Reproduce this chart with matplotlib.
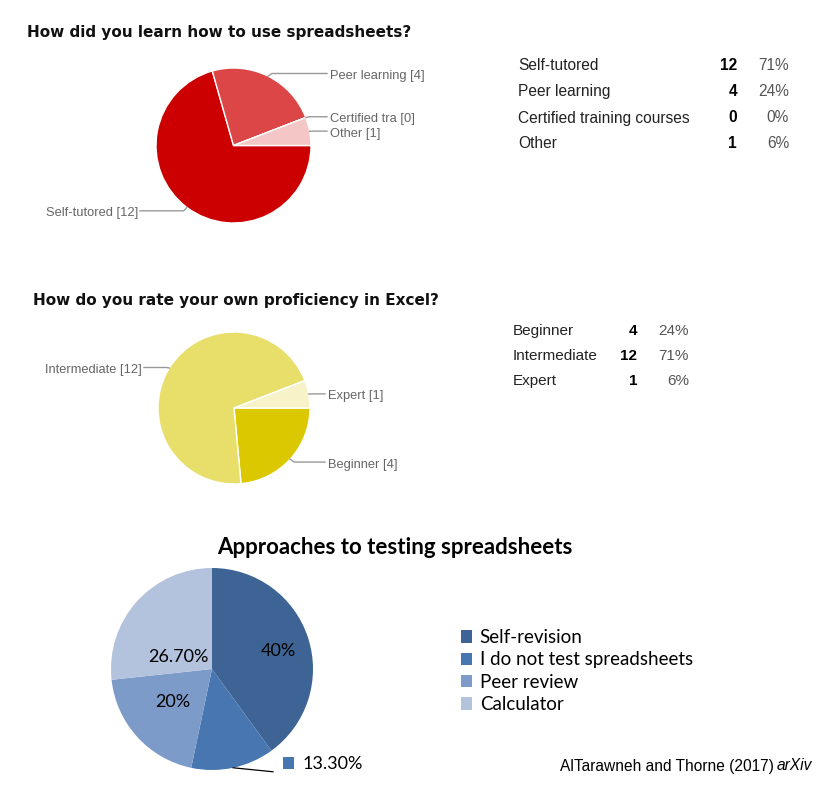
import matplotlib
matplotlib.use("Agg")
import matplotlib.pyplot as plt
from matplotlib.lines import Line2D
from matplotlib.patches import Rectangle
import numpy as np

# ---------------- data ----------------
learn_categories = ["Self-tutored", "Peer learning", "Certified training courses", "Other"]
learn_counts = [12, 4, 0, 1]
learn_pct = ["71%", "24%", "0%", "6%"]
learn_pie_labels = ["Self-tutored [12]", "Peer learning [4]", "Certified tra [0]", "Other [1]"]

excel_categories = ["Beginner", "Intermediate", "Expert"]
excel_counts = [4, 12, 1]
excel_pct = ["24%", "71%", "6%"]
excel_pie_labels = ["Beginner [4]", "Intermediate [12]", "Expert [1]"]

test_categories = ["Self-revision", "I do not test spreadsheets", "Peer review", "Calculator"]
test_values = [40, 13.3, 20, 26.7]
test_labels = ["40%", "13.30%", "20%", "26.70%"]

learn_colors = ["#cc0000", "#dc4646", "#e88a8a", "#f4c6c6"]
excel_colors = ["#dcc800", "#e8de6a", "#f7f2c8"]
test_colors = ["#3d6494", "#4776b0", "#7d9bc9", "#b3c2dd"]

W, H = 835, 798
fig = plt.figure(figsize=(W / 100, H / 100), dpi=100)
fig.patch.set_facecolor("white")

GFONT = ["Liberation Sans", "DejaVu Sans"]
TFONT = ["DejaVu Sans"]
XFONT = ["Lato", "DejaVu Sans"]


def fx(x):
    return x / W


def fy(y):
    return 1 - y / H


def pie_axes(cx, cy, r):
    ax = fig.add_axes([fx(cx - r), fy(cy + r), 2 * r / W, 2 * r / H])
    return ax


def line_px(xs, ys, color="#999999", lw=1.0):
    fig.add_artist(Line2D([fx(x) for x in xs], [fy(y) for y in ys],
                          transform=fig.transFigure, color=color, lw=lw))


def google_pie(cx, cy, r, values, colors, labels, right_x, left_x, dy_left=0):
    ax = pie_axes(cx, cy, r)
    wedges, _ = ax.pie(values, colors=colors, startangle=0, counterclock=False,
                       radius=1, wedgeprops=dict(edgecolor="white", linewidth=1.0))
    ax.set_xlim(-1, 1)
    ax.set_ylim(-1, 1)
    ax.axis("off")
    for w, lab in zip(wedges, labels):
        mid = np.deg2rad((w.theta1 + w.theta2) / 2)
        ex = cx + r * np.cos(mid)
        ey = cy - r * np.sin(mid)
        if np.cos(mid) >= 0:
            ly = ey + 3 - 3.5 * np.sin(mid)
            line_px([ex, ex + 4, right_x - 3], [ey, ly - 2.5, ly - 2.5])
            fig.text(fx(right_x), fy(ly), lab, ha="left", va="center",
                     fontsize=9.3, color="#666666", family=GFONT)
        else:
            ly = ey + dy_left
            line_px([ex, ex - 3, left_x + 2], [ey, ly - 2.5, ly - 2.5])
            fig.text(fx(left_x), fy(ly), lab, ha="right", va="center",
                     fontsize=9.3, color="#666666", family=GFONT)


# ---------------- chart 1 ----------------
fig.text(fx(27), fy(33), "How did you learn how to use spreadsheets?", ha="left",
         va="center", fontsize=11, fontweight="bold", color="#111111", family=TFONT)
google_pie(233.5, 145.5, 77.5, learn_counts, learn_colors, learn_pie_labels, 330, 138, dy_left=6)

rows1 = [65, 91.5, 118, 144]
for y, c, n, p in zip(rows1, learn_categories, learn_counts, learn_pct):
    fig.text(fx(518), fy(y), c, ha="left", va="center", fontsize=11.2, color="#222222", family=GFONT)
    fig.text(fx(737), fy(y), str(n), ha="right", va="center", fontsize=11.2,
             fontweight="bold", color="#000000", family=GFONT)
    fig.text(fx(789), fy(y), p, ha="right", va="center", fontsize=11.2, color="#555555", family=GFONT)

# ---------------- chart 2 ----------------
fig.text(fx(33), fy(300), "How do you rate your own proficiency in Excel?", ha="left",
         va="center", fontsize=11, fontweight="bold", color="#111111", family=TFONT)
google_pie(234, 408, 76, excel_counts, excel_colors, excel_pie_labels, 328, 142, dy_left=2)

rows2 = [331, 355.5, 381]
for y, c, n, p in zip(rows2, excel_categories, excel_counts, excel_pct):
    fig.text(fx(513), fy(y), c, ha="left", va="center", fontsize=11, color="#222222", family=GFONT)
    fig.text(fx(637), fy(y), str(n), ha="right", va="center", fontsize=11,
             fontweight="bold", color="#000000", family=GFONT)
    fig.text(fx(689), fy(y), p, ha="right", va="center", fontsize=11, color="#555555", family=GFONT)

# ---------------- chart 3 ----------------
fig.text(fx(395), fy(548), "Approaches to testing spreadsheets", ha="center", va="center",
         fontsize=16, fontweight="bold", color="#000000", family=XFONT)

cx3, cy3, r3 = 212, 669, 101
ax3 = pie_axes(cx3, cy3, r3)
wedges3, _ = ax3.pie(test_values, colors=test_colors, startangle=90, counterclock=False,
                     radius=1, wedgeprops=dict(edgecolor="none", linewidth=0))
ax3.set_xlim(-1, 1)
ax3.set_ylim(-1, 1)
ax3.axis("off")

# inside labels (positions in pie-radius units)
inside_pos = {0: (0.66, 0.18), 2: (-0.39, -0.33), 3: (-0.33, 0.12)}
for i, (dx, dy) in inside_pos.items():
    ax3.text(dx, dy, test_labels[i], ha="center", va="center", fontsize=13,
             color="#000000", family=XFONT)

# outside label for the small wedge
w = wedges3[1]
mid = np.deg2rad((w.theta1 + w.theta2) / 2)
ex = cx3 + r3 * np.cos(mid)
ey = cy3 - r3 * np.sin(mid)
line_px([ex, 273], [ey, ey + 4], color="#000000", lw=0.9)
fig.add_artist(Rectangle((fx(283), fy(769)), 11 / W, 12 / H, transform=fig.transFigure,
                         facecolor=test_colors[1], edgecolor="none"))
fig.text(fx(303), fy(764), test_labels[1], ha="left", va="center", fontsize=13,
         color="#000000", family=XFONT)

leg = fig.legend(wedges3, test_categories, loc="upper left",
                 bbox_to_anchor=(fx(461), fy(629)), frameon=False,
                 prop=dict(family=XFONT, size=13.5), handlelength=0.6, handleheight=0.65,
                 handletextpad=0.4, labelspacing=0.285, borderaxespad=0, borderpad=0)

# attribution
renderer = fig.canvas.get_renderer()
t_it = fig.text(fx(812), fy(766), "arXiv", ha="right", va="center", fontsize=11.2,
                style="italic", color="#000000", family=GFONT)
bb = t_it.get_window_extent(renderer=renderer)
fig.text(fx(812 - bb.width - 3), fy(766), "AlTarawneh and Thorne (2017)", ha="right",
         va="center", fontsize=11.2, color="#000000", family=GFONT)

fig.savefig("out.png", dpi=100, facecolor="white")
